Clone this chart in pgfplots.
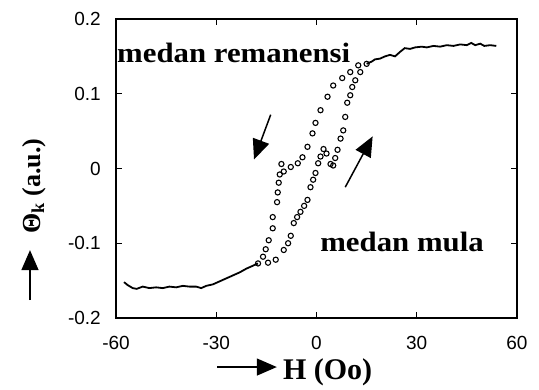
\documentclass[border=0pt]{standalone}
\usepackage{pgfplots}
\pgfplotsset{compat=1.18}
\usepackage{fontspec}
\setmainfont{Liberation Serif}
\setsansfont{Liberation Sans}
\usetikzlibrary{arrows.meta}
\begin{document}
\begin{tikzpicture}
\begin{axis}[name=ax, scale only axis, width=401pt, height=299pt,
  xmin=-60, xmax=60, ymin=-0.2, ymax=0.2,
  xtick={-60,-30,0,30,60}, ytick={-0.2,-0.1,0,0.1,0.2},
  tick align=inside, major tick length=6pt,
  axis line style={line width=1.6pt},
  every tick/.style={line width=1.2pt, black},
  ticklabel style={font=\sffamily\fontsize{19}{19}\selectfont, inner sep=0pt},
  yticklabel style={anchor=east, xshift=-15pt},
  xticklabel style={anchor=north, yshift=-18pt},
  /pgf/number format/assume math mode=true,
  /pgf/number format/fixed,
  clip=false]
% lower saturation branch
\addplot[black, line width=1.8pt] coordinates {
(-57.6,-0.152)(-56.5,-0.156)(-55,-0.160)(-53.8,-0.161)(-52,-0.158)(-50,-0.160)(-48,-0.159)(-46,-0.160)(-44,-0.158)(-42,-0.159)(-40,-0.157)(-38,-0.158)(-36,-0.158)(-34.5,-0.160)(-33,-0.157)(-31,-0.155)(-29,-0.151)(-27,-0.147)(-25,-0.143)(-23,-0.139)(-21,-0.134)(-19,-0.130)(-17.5,-0.127)};
% upper saturation branch
\addplot[black, line width=1.8pt] coordinates {
(15,0.140)(16.5,0.143)(17.5,0.146)(19,0.147)(20.5,0.150)(22,0.152)(23.5,0.150)(25,0.156)(26.4,0.161)(28,0.160)(29.5,0.162)(31.5,0.163)(33,0.162)(35,0.164)(37,0.163)(39,0.165)(41,0.164)(43,0.166)(45,0.165)(46.3,0.168)(47.5,0.165)(49,0.167)(50.2,0.164)(52,0.165)(53.8,0.164)};
% descending branch
\addplot[only marks, mark=o, mark size=2.6pt, mark options={line width=1.1pt, fill=white}, black] coordinates {
(15,0.140)(12.5,0.138)(10.1,0.129)(7.7,0.121)(5.0,0.111)(3.3,0.096)(1.2,0.078)(-0.3,0.061)(-1.2,0.047)(-2.7,0.029)(-4.2,0.015)(-5.6,0.007)(-7.7,0.002)(-9.8,-0.004)(-10.5,0.006)(-11.0,-0.008)(-11.3,-0.019)(-11.6,-0.032)(-11.8,-0.045)(-13.1,-0.065)(-13.1,-0.080)(-14.3,-0.096)(-15.2,-0.108)(-16.0,-0.118)(-17.5,-0.127)};
% ascending branch
\addplot[only marks, mark=o, mark size=2.6pt, mark options={line width=1.1pt, fill=white}, black] coordinates {
(-14.5,-0.126)(-12.2,-0.122)(-9.8,-0.109)(-8.5,-0.100)(-7.7,-0.090)(-6.8,-0.073)(-5.8,-0.065)(-4.8,-0.058)(-3.7,-0.050)(-2.7,-0.042)(-1.8,-0.025)(-1.0,-0.015)(-0.3,-0.006)(0.5,0.007)(1.2,0.016)(2.1,0.026)(3.0,0.020)(4.2,0.006)(5.0,0.004)(5.6,0.014)(6.3,0.025)(7.2,0.040)(8.0,0.051)(8.6,0.069)(9.2,0.088)(10.1,0.098)(10.7,0.109)(11.6,0.118)(13.1,0.129)};
% annotations
\draw[line width=1.5pt, -{Triangle[length=20pt,width=17pt]}] (axis cs:-13.7,0.072) -- (axis cs:-18.7,0.012);
\draw[line width=1.5pt, -{Triangle[length=20pt,width=17pt]}] (axis cs:8.6,-0.025) -- (axis cs:16.8,0.043);
\node[anchor=base west, font=\bfseries\fontsize{28}{28}\selectfont, inner sep=0pt, xscale=1.1] at (rel axis cs:0.0025,0.853) {medan remanensi};
\node[anchor=base west, font=\bfseries\fontsize{28}{28}\selectfont, inner sep=0pt, xscale=1.1] at (rel axis cs:0.509,0.221) {medan mula};
\draw[line width=1.5pt, -{Triangle[length=20pt,width=17pt]}] (rel axis cs:0.252,-0.164) -- (rel axis cs:0.401,-0.164);
\node[anchor=base west, font=\bfseries\fontsize{30}{30}\selectfont, inner sep=0pt] at (rel axis cs:0.416,-0.207) {H (Oo)};
\draw[line width=1.5pt, -{Triangle[length=20pt,width=17pt]}] (rel axis cs:-0.2145,0.060) -- (rel axis cs:-0.2145,0.227);
\node[rotate=90, anchor=center, font=\bfseries\fontsize{26}{26}\selectfont, inner sep=0pt] at (rel axis cs:-0.205,0.441) {Θ\textsubscript{k} (a.u.)};
\end{axis}
\pgfresetboundingbox
\path ([shift={(-116pt,-71pt)}]ax.south west) rectangle ([shift={(22pt,19pt)}]ax.north east);
\end{tikzpicture}
\end{document}
